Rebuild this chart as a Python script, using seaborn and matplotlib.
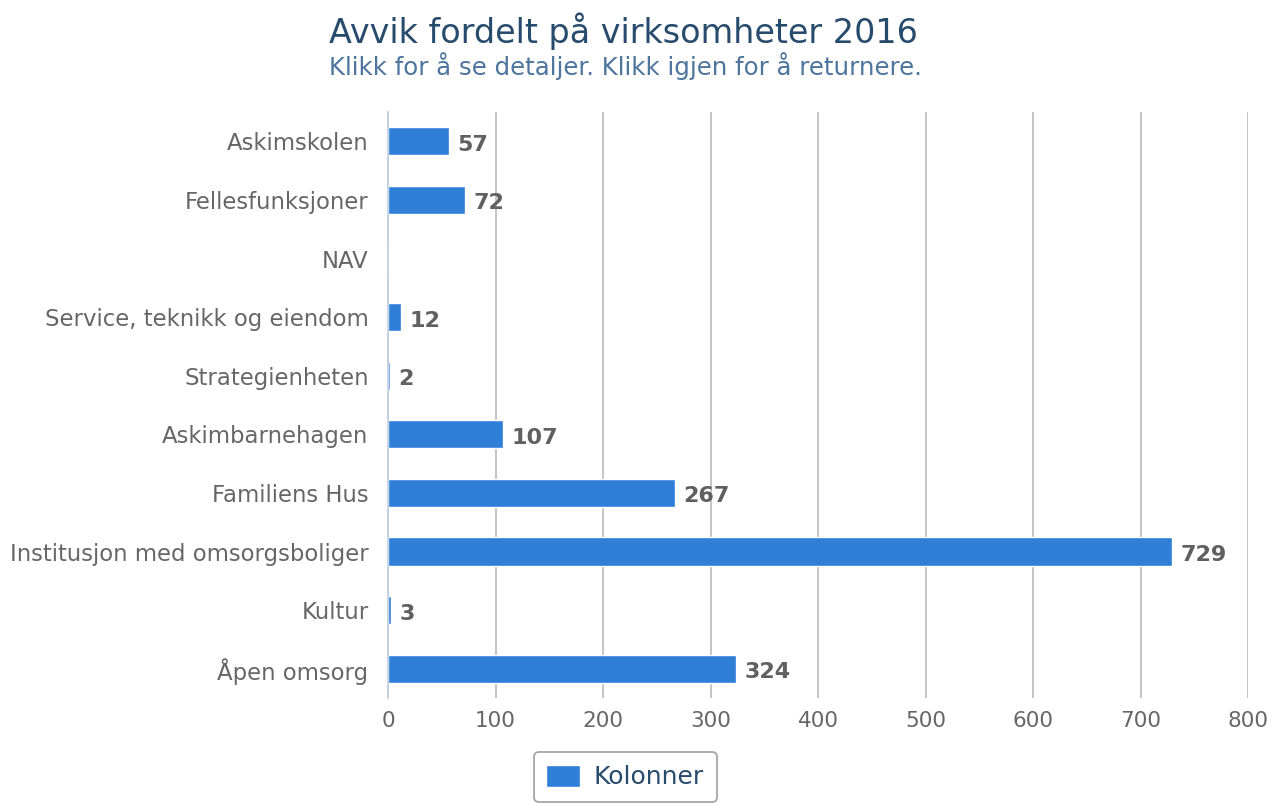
import matplotlib
matplotlib.use("Agg")
import matplotlib.pyplot as plt
import seaborn as sns
import pandas as pd

categories = ["Askimskolen", "Fellesfunksjoner", "NAV", "Service, teknikk og eiendom",
              "Strategienheten", "Askimbarnehagen", "Familiens Hus",
              "Institusjon med omsorgsboliger", "Kultur", "Åpen omsorg"]
values = [57, 72, 0, 12, 2, 107, 267, 729, 3, 324]
x_ticks = [0, 100, 200, 300, 400, 500, 600, 700, 800]
series_name = "Kolonner"
title = "Avvik fordelt på virksomheter 2016"
subtitle = "Klikk for å se detaljer. Klikk igjen for å returnere."

sns.set_theme(style="white")
plt.rcParams['font.family'] = ['DejaVu Sans']

df = pd.DataFrame({"kategori": categories, "verdi": values})

fig = plt.figure(figsize=(12.86, 8.05), dpi=100)
ax = fig.add_axes([388/1286, 1-698/805, 860/1286, 586/805])

sns.barplot(data=df, y="kategori", x="verdi", orient="h", color="#2f7ed8",
            saturation=1, width=0.48, ax=ax, label=series_name)

ax.set_xlim(0, 800)
ax.set_ylim(len(categories) - 0.5, -0.5)
ax.set_xticks(x_ticks)
ax.set_xticklabels([str(t) for t in x_ticks])
ax.xaxis.grid(True, color="#c0c0c0", linewidth=1.3)
ax.set_axisbelow(True)
ax.set_xlabel("")
ax.set_ylabel("")

for s in ["top", "right", "bottom"]:
    ax.spines[s].set_visible(False)
ax.spines["left"].set_color("#c0d0e0")
ax.spines["left"].set_linewidth(1.3)

ax.tick_params(axis="x", length=0, labelsize=15.5, labelcolor="#666666", pad=9)
ax.tick_params(axis="y", which="major", length=0, labelsize=16.4, labelcolor="#666666", pad=14)
ax.set_yticks([i - 0.5 for i in range(len(categories) + 1)], minor=True)
ax.tick_params(axis="y", which="minor", length=10, color="#c0d0e0", width=1.3)

labels = [str(v) if v > 0 else "" for v in values]
texts = ax.bar_label(ax.containers[0], labels=labels, padding=6, fontsize=16,
                     fontweight="bold", color="#606060")
for t in texts:
    px, py = t.get_position()
    t.set_position((px, py - 2.5))

fig.text(0.4845, 1-31/805, title, ha="center", va="center", fontsize=24, color="#274b6d")
fig.text(0.486, 1-66/805, subtitle, ha="center", va="center", fontsize=17.6, color="#4d759e")

leg = ax.legend(loc="center", bbox_to_anchor=(625/1286, 1-777/805),
                bbox_transform=fig.transFigure, frameon=True, fancybox=True,
                fontsize=18, handlelength=1.36, handleheight=1.0,
                borderpad=0.5, handletextpad=0.55)
leg.get_frame().set_edgecolor("#909090")
leg.get_frame().set_linewidth(1.3)
for t in leg.get_texts():
    t.set_color("#274b6d")

fig.savefig("out.png", dpi=100)
